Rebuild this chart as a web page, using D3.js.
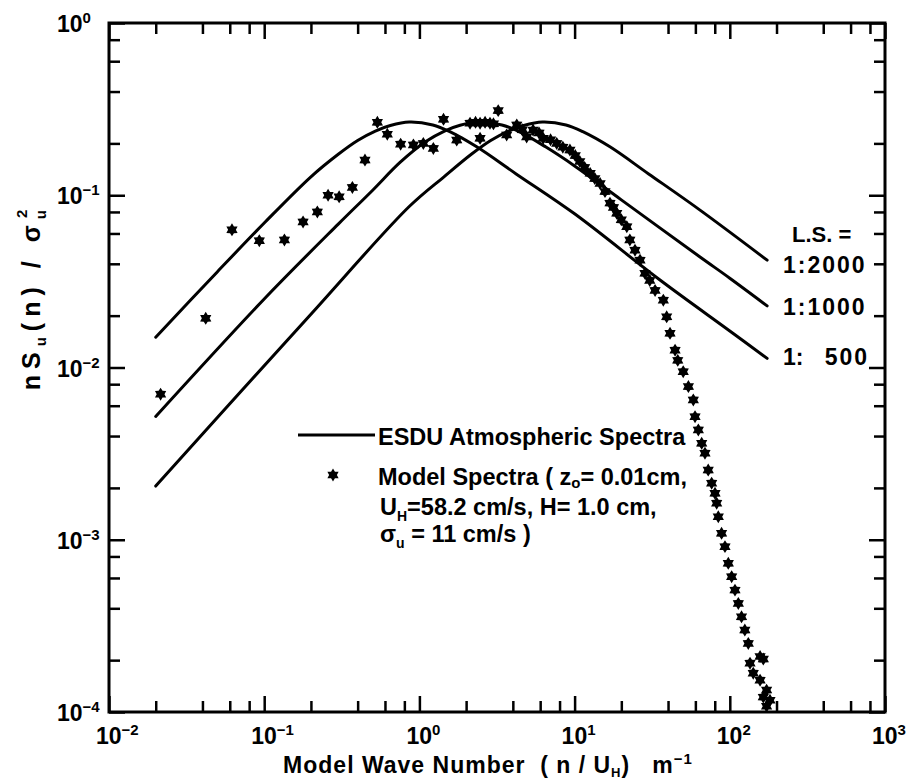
<!DOCTYPE html>
<html>
<head>
<meta charset="utf-8">
<script src="https://cdn.jsdelivr.net/npm/d3@7"></script>
<style>
  body { margin: 0; background: #fff; }
  text { font-family: "Liberation Sans", Arial, sans-serif; font-weight: bold; fill: #000; }
</style>
</head>
<body>
<svg id="chart" width="908" height="783"></svg>
<script>
'use strict';

// ESDU atmospheric spectra (n/U_H, nS/sigma^2)
var esdu500 = [
  [0.02, 0.015], [0.05, 0.036], [0.1, 0.069], [0.2, 0.128], [0.3, 0.173],
  [0.4, 0.208], [0.52, 0.236], [0.65, 0.254], [0.86, 0.266], [1.22, 0.256],
  [1.57, 0.234], [2.34, 0.191], [4.2, 0.133], [10, 0.078], [35.5, 0.0322],
  [100, 0.0163], [174, 0.0113]
];
var esdu1000 = [
  [0.02, 0.0052], [0.1, 0.025], [0.3, 0.068], [0.5, 0.107], [0.75, 0.155],
  [1.1, 0.205], [1.45, 0.236], [1.83, 0.255], [2.4, 0.266], [3.4, 0.256],
  [4.4, 0.234], [6.5, 0.191], [10, 0.148], [20, 0.094], [64.3, 0.0438],
  [100, 0.033], [174, 0.0228]
];
var esdu2000 = [
  [0.02, 0.00205], [0.0565, 0.0058], [0.2, 0.0204], [0.86, 0.086], [1.44, 0.128],
  [2.16, 0.173], [2.88, 0.208], [3.75, 0.236], [4.7, 0.254], [6.2, 0.266],
  [8.8, 0.256], [11.3, 0.234], [16.9, 0.191], [30, 0.133], [64.3, 0.082],
  [174, 0.042]
];

// model spectra (wind tunnel), asterisks
var modelSpectra = [
  [0.0215, 0.0070], [0.042, 0.0193], [0.062, 0.063], [0.093, 0.0545], [0.135, 0.055],
  [0.178, 0.070], [0.22, 0.080], [0.258, 0.100], [0.304, 0.098], [0.37, 0.111],
  [0.446, 0.160], [0.536, 0.265], [0.621, 0.226], [0.757, 0.198], [0.915, 0.196],
  [1.06, 0.200], [1.23, 0.187], [1.43, 0.276], [1.74, 0.209], [2.12, 0.262],
  [2.3, 0.265], [2.46, 0.262], [2.65, 0.265], [2.85, 0.262], [3.0, 0.26],
  [2.46, 0.214], [3.22, 0.31], [3.65, 0.224], [4.24, 0.256], [4.6, 0.24],
  [4.91, 0.218], [5.4, 0.239], [5.9, 0.23], [6.28, 0.214], [7.0, 0.21],
  [7.67, 0.20], [8.4, 0.19], [9.33, 0.183], [10.1, 0.17], [10.8, 0.157],
  [11.6, 0.145], [12.6, 0.134], [13.5, 0.125], [14.6, 0.117], [15.7, 0.105],
  [16.9, 0.090], [17.8, 0.085], [18.7, 0.0785], [20.0, 0.072], [21.7, 0.0657],
  [22.7, 0.055], [24.5, 0.048], [26.4, 0.042], [28.4, 0.0352], [30.5, 0.032],
  [33, 0.028], [37.3, 0.0246], [39.2, 0.0197], [41.2, 0.0158], [44.4, 0.0126],
  [46.2, 0.0110], [50.1, 0.00946], [54.1, 0.00775], [58.2, 0.00648], [59.7, 0.00518],
  [62.7, 0.00434], [65.9, 0.00363], [69.2, 0.00318], [72.6, 0.00254], [76.4, 0.00213],
  [80.3, 0.00186], [82.3, 0.00163], [84.3, 0.00136], [88.5, 0.00109], [93.1, 0.000912],
  [97.8, 0.00073], [102.8, 0.00061], [108, 0.00051], [113.5, 0.000427], [119, 0.000357],
  [125, 0.000299], [131.6, 0.00025], [135, 0.000192], [141.6, 0.000168], [156.7, 0.00021],
  [164.4, 0.000203], [156.7, 0.000153], [172.6, 0.000134], [164.4, 0.000122], [181.5, 0.000117],
  [172.6, 0.000108]
];

var xDecades = [-2, -1, 0, 1, 2, 3];
var yDecades = [-4, -3, -2, -1, 0];
var minorMults = [2, 4, 6, 8];
var lsLabels = [['1:2000', 273], ['1:1000', 315]];

var svg = d3.select('#chart');
var margin = { top: 23, right: 23, bottom: 71, left: 109 };
var width = 908 - margin.left - margin.right;
var height = 783 - margin.top - margin.bottom;

var x = d3.scaleLog().domain([1e-2, 1e3]).range([margin.left, margin.left + width]);
var y = d3.scaleLog().domain([1e-4, 1]).range([margin.top + height, margin.top]);

var majorX = xDecades.map(function(d) { return Math.pow(10, d); });
var majorY = yDecades.map(function(d) { return Math.pow(10, d); });
var minorX = [], minorY = [];
xDecades.slice(0, -1).forEach(function(d) {
  minorMults.forEach(function(m) { minorX.push(m * Math.pow(10, d)); });
});
yDecades.slice(0, -1).forEach(function(d) {
  minorMults.forEach(function(m) { minorY.push(m * Math.pow(10, d)); });
});

// inward ticks on all four sides
function ticks(axis, vals, len, tr) {
  var g = svg.append('g')
    .attr('transform', tr)
    .call(axis.tickValues(vals).tickSize(-len).tickFormat(''));
  g.select('.domain').remove();
  g.selectAll('line').attr('stroke', '#000').attr('stroke-width', 2.5);
}
[[minorX, 11], [majorX, 16]].forEach(function(p) {
  ticks(d3.axisBottom(x), p[0], p[1], 'translate(0,' + (margin.top + height) + ')');
  ticks(d3.axisTop(x), p[0], p[1], 'translate(0,' + margin.top + ')');
});
[[minorY, 11], [majorY, 16]].forEach(function(p) {
  ticks(d3.axisLeft(y), p[0], p[1], 'translate(' + margin.left + ',0)');
  ticks(d3.axisRight(y), p[0], p[1], 'translate(' + (margin.left + width) + ',0)');
});

svg.append('rect')
  .attr('x', margin.left).attr('y', margin.top)
  .attr('width', width).attr('height', height)
  .attr('fill', 'none').attr('stroke', '#000').attr('stroke-width', 3);

// tick labels 10^n
function powLabel(sel, d) {
  sel.append('tspan').text('10');
  sel.append('tspan').attr('dy', -9).attr('font-size', 15).text(d < 0 ? '\u2212' + (-d) : d);
}
xDecades.forEach(function(d) {
  var t = svg.append('text')
    .attr('x', x(Math.pow(10, d)) - 13).attr('y', margin.top + height + 32)
    .attr('font-size', 23);
  powLabel(t, d);
});
yDecades.forEach(function(d) {
  var t = svg.append('text')
    .attr('x', 57).attr('y', y(Math.pow(10, d)) + 9)
    .attr('font-size', 23);
  powLabel(t, d);
});

// ESDU curves
var line = d3.line()
  .x(function(d) { return x(d[0]); })
  .y(function(d) { return y(d[1]); })
  .curve(d3.curveCatmullRom.alpha(0.5));

[esdu500, esdu1000, esdu2000].forEach(function(s) {
  svg.append('path')
    .datum(s)
    .attr('fill', 'none')
    .attr('stroke', '#000')
    .attr('stroke-width', 3)
    .attr('stroke-linecap', 'round')
    .attr('d', line);
});

// six pointed star for model points
var star6 = {
  draw: function(ctx, size) {
    var R = Math.sqrt(size), r = R * 0.6;
    for (var i = 0; i < 12; i++) {
      var a = i * Math.PI / 6 - Math.PI / 2;
      var rr = i % 2 ? r : R;
      if (i === 0) ctx.moveTo(rr * Math.cos(a), rr * Math.sin(a));
      else ctx.lineTo(rr * Math.cos(a), rr * Math.sin(a));
    }
    ctx.closePath();
  }
};
var starPath = d3.symbol().type(star6).size(42);

svg.append('g').selectAll('path')
  .data(modelSpectra)
  .enter().append('path')
  .attr('transform', function(d) { return 'translate(' + x(d[0]) + ',' + y(d[1]) + ')'; })
  .attr('d', starPath)
  .attr('fill', '#000');

// length scale labels
svg.append('text').attr('x', 792).attr('y', 242).attr('font-size', 22).text('L.S. =');
lsLabels.forEach(function(p) {
  svg.append('text').attr('x', 783).attr('y', p[1]).attr('font-size', 23)
    .attr('letter-spacing', 2).text(p[0]);
});
svg.append('text').attr('x', 783).attr('y', 365).attr('font-size', 23).text('1:');
svg.append('text').attr('x', 869).attr('y', 365).attr('font-size', 23)
  .attr('text-anchor', 'end').attr('letter-spacing', 2).text('500');

// legend
svg.append('line')
  .attr('x1', 298).attr('x2', 375).attr('y1', 435).attr('y2', 435)
  .attr('stroke', '#000').attr('stroke-width', 3);
svg.append('text').attr('x', 378).attr('y', 445).attr('font-size', 23.5).text('ESDU  Atmospheric  Spectra');
svg.append('path')
  .attr('transform', 'translate(333,475)')
  .attr('d', starPath).attr('fill', '#000');

var l2 = svg.append('text').attr('x', 378).attr('y', 485).attr('font-size', 23.5);
l2.append('tspan').text('Model  Spectra  ( z');
l2.append('tspan').attr('dy', 3).attr('font-size', 15).text('o');
l2.append('tspan').attr('dy', -3).text('= 0.01cm,');

var l3 = svg.append('text').attr('x', 380).attr('y', 515).attr('font-size', 23.5);
l3.append('tspan').text('U');
l3.append('tspan').attr('dy', 6).attr('font-size', 14).text('H');
l3.append('tspan').attr('dy', -6).text('=58.2 cm/s, H= 1.0 cm,');

var l4 = svg.append('text').attr('x', 380).attr('y', 542).attr('font-size', 23.5);
l4.append('tspan').text('\u03c3');
l4.append('tspan').attr('dy', 6).attr('font-size', 14).text('u');
l4.append('tspan').attr('dy', -6).text(' = 11 cm/s )');

// axis titles
var xt = svg.append('text')
  .attr('x', 488).attr('y', 773)
  .attr('text-anchor', 'middle').attr('font-size', 23)
  .attr('letter-spacing', 1)
  .style('white-space', 'pre');
xt.append('tspan').text('Model Wave Number  ( n / U');
xt.append('tspan').attr('dy', 4).attr('font-size', 13).text('H');
xt.append('tspan').attr('dy', -4).text(')   m');
xt.append('tspan').attr('dy', -9).attr('font-size', 15).text('\u22121');

var yt = svg.append('text')
  .attr('transform', 'translate(40,297) rotate(-90)')
  .attr('text-anchor', 'middle').attr('font-size', 25)
  .attr('letter-spacing', 6)
  .style('white-space', 'pre');
yt.append('tspan').text('nS');
yt.append('tspan').attr('dy', 6).attr('font-size', 15).text('u');
yt.append('tspan').attr('dy', -6).text('(n) / \u03c3');
yt.append('tspan').attr('dy', 6).attr('font-size', 15).text('u');
yt.append('tspan').attr('dx', -14).attr('dy', -19).attr('font-size', 15).text('2');
</script>
</body>
</html>
